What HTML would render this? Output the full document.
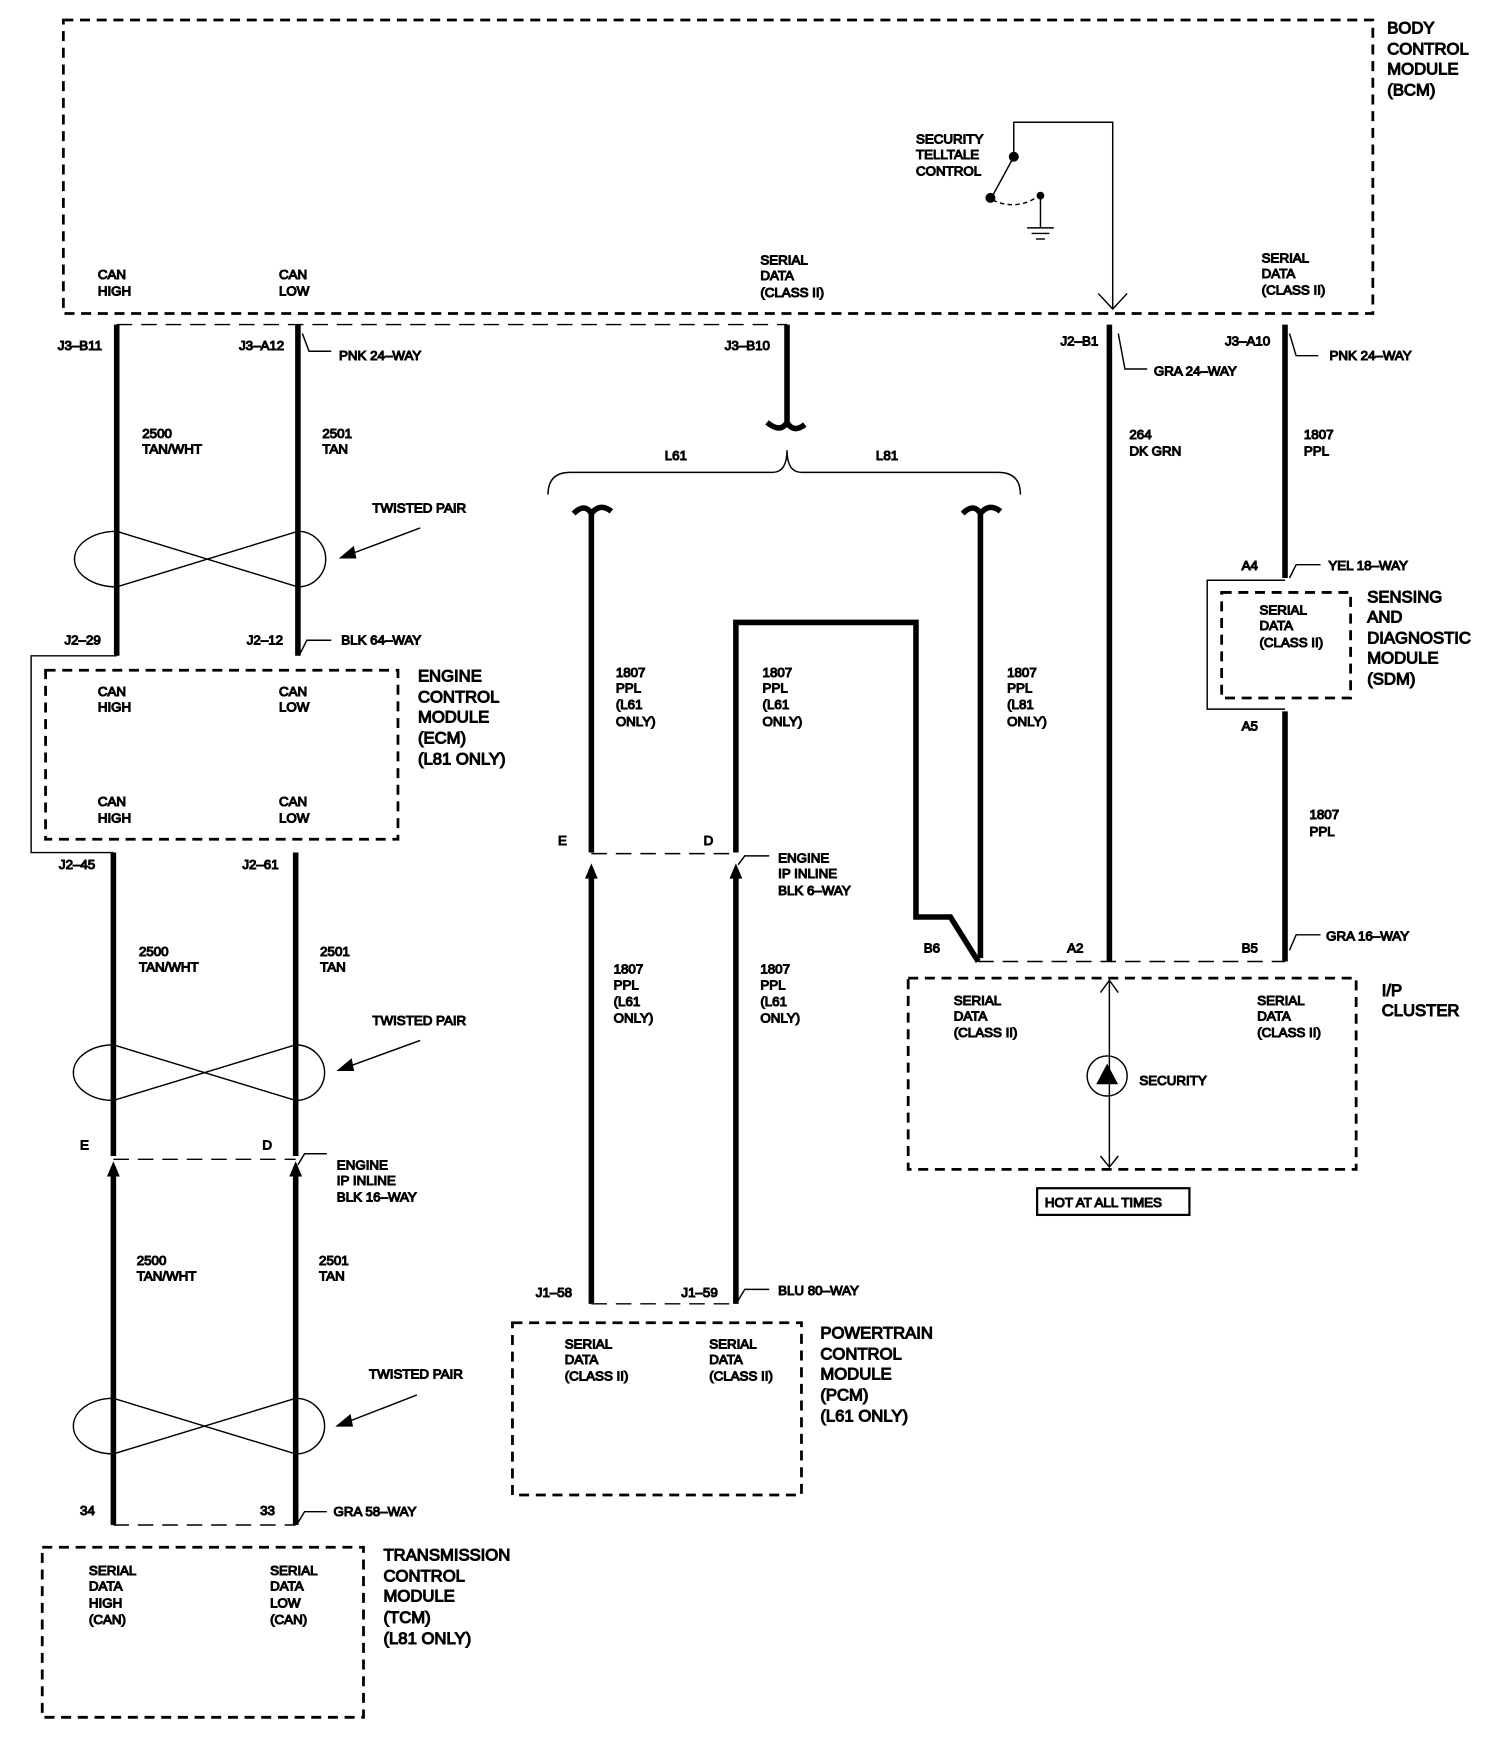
<!DOCTYPE html>
<html><head><meta charset="utf-8"><style>
html,body{margin:0;padding:0;background:#fff}
svg{display:block}
text{font-family:"Liberation Sans",sans-serif;font-size:12px;fill:#000}
.b{font-size:15px}
</style></head><body>
<svg width="1504" height="1744" viewBox="0 0 1353 1569" preserveAspectRatio="none" xmlns="http://www.w3.org/2000/svg">
<g fill="none" stroke="#000">
<!-- boxes -->
<g stroke-width="2.5" stroke-dasharray="9,6">
<rect x="57" y="18" width="1178" height="264"/>
<rect x="41" y="603" width="317" height="152"/>
<rect x="38" y="1392" width="289" height="153"/>
<rect x="461" y="1190" width="260" height="155"/>
<rect x="1099" y="533" width="116" height="95"/>
<rect x="817" y="880" width="403" height="172"/>
</g>
<!-- thin dashed connector lines -->
<g stroke-width="1.3" stroke-dasharray="14,8">
<line x1="105" y1="292" x2="708" y2="292"/>
<line x1="102" y1="1043" x2="266" y2="1043"/>
<line x1="102" y1="1372" x2="266" y2="1372"/>
<line x1="532" y1="768" x2="662" y2="768"/>
<line x1="532" y1="1173" x2="662" y2="1173"/>
<line x1="880" y1="865" x2="1156" y2="865"/>
</g>
<!-- thin outer brackets -->
<g stroke-width="1.3">
<polyline points="105,590 28,590 28,767 102,767"/>
<polyline points="1156,522 1086,522 1086,638 1156,638"/>
<polyline points="912,141 912,110 1001,110 1001,278"/>
<polyline points="988,264 1001,278 1014,264"/>
<line x1="998" y1="882" x2="998" y2="1050"/>
<polyline points="990,893 998,882 1006,893"/>
<polyline points="990,1040 998,1050 1006,1040"/>
<circle cx="996" cy="968" r="18"/>
<line x1="912" y1="141" x2="893" y2="176"/>
<path d="M893,180 Q915,190 935,176" stroke-dasharray="4,3"/>
<line x1="936" y1="176" x2="936" y2="205"/>
<line x1="924" y1="205" x2="948" y2="205"/><line x1="928" y1="210" x2="944" y2="210"/><line x1="932" y1="215" x2="940" y2="215"/>
<rect x="933" y="1069" width="137" height="24" stroke-width="2"/>
<!-- leaders -->
<path d="M272,300 l6,16 h20"/><path d="M1006,300 l6,32 h20"/><path d="M1160,300 l6,20 h20"/>
<path d="M270,588 l6,-12 h22"/><path d="M1160,520 l6,-12 h22"/><path d="M1160,855 l6,-14 h22"/>
<path d="M268,1048 l6,-10 h20"/><path d="M268,1370 l6,-10 h20"/><path d="M664,778 l6,-8 h22"/><path d="M664,1170 l6,-10 h22"/>
<!-- twisted pairs -->
<path d="M105,478 A38,25 0 0 0 105,528 M268,478 A25,25 0 0 1 268,528 M105,478 L268,528 M105,528 L268,478"/>
<path d="M102,940 A36,25 0 0 0 102,990 M266,940 A26,25 0 0 1 266,990 M102,940 L266,990 M102,990 L266,940"/>
<path d="M102,1258 A36,25 0 0 0 102,1308 M266,1258 A26,25 0 0 1 266,1308 M102,1258 L266,1308 M102,1308 L266,1258"/>
<line x1="378" y1="475" x2="306" y2="502"/><line x1="378" y1="936" x2="304" y2="963"/><line x1="375" y1="1255" x2="303" y2="1283"/>
<!-- brace -->
<path d="M493,445 Q493,425 513,425 L695,425 Q708,425 708,405 Q708,425 721,425 L898,425 Q918,425 918,445"/>
</g>
<g fill="#000">
<polygon points="306,502 318,492 320,502"/><polygon points="304,963 316,953 318,963"/><polygon points="303,1283 315,1273 317,1283"/>
<circle cx="912" cy="141" r="4"/><circle cx="891" cy="178" r="4"/><circle cx="936" cy="176" r="3"/>
<polygon points="987,975 1005,975 996,958"/>
</g>
<!-- thick wires -->
<g fill="none" stroke="#000" stroke-width="5">
<line x1="105" y1="292" x2="105" y2="590"/><line x1="268" y1="292" x2="268" y2="590"/>
<line x1="102" y1="767" x2="102" y2="1040"/><line x1="266" y1="767" x2="266" y2="1040"/>
<line x1="102" y1="1050" x2="102" y2="1372"/><line x1="266" y1="1050" x2="266" y2="1372"/>
<path d="M708,292 V380 Q702,390 690,380 M708,380 Q714,390 724,382"/>
<path d="M532,767 V462 Q526,452 516,462 M532,462 Q540,452 550,460"/>
<path d="M882,862 V462 Q876,452 866,462 M882,462 Q890,452 900,460"/>
<path d="M662,767 V560 H824 V825 H855 L880,865"/>
<line x1="532" y1="782" x2="532" y2="1173"/><line x1="662" y1="782" x2="662" y2="1173"/>
<line x1="998" y1="292" x2="998" y2="865"/>
<line x1="1156" y1="292" x2="1156" y2="520"/><line x1="1156" y1="640" x2="1156" y2="865"/>
</g>
<g fill="#000"><polygon points="97,1058 102,1046 107,1058"/><polygon points="261,1058 266,1046 271,1058"/><polygon points="527,790 532,778 537,790"/><polygon points="657,790 662,778 667,790"/></g>
<!-- text -->
<text class="b" x="1248" y="30">BODY</text><text class="b" x="1248" y="49">CONTROL</text><text class="b" x="1248" y="67">MODULE</text><text class="b" x="1248" y="86">(BCM)</text>
<text x="824" y="129">SECURITY</text><text x="824" y="143">TELLTALE</text><text x="824" y="158">CONTROL</text>
<text x="88" y="251">CAN</text><text x="88" y="266">HIGH</text><text x="251" y="251">CAN</text><text x="251" y="266">LOW</text>
<text x="684" y="238">SERIAL</text><text x="684" y="252">DATA</text><text x="684" y="267">(CLASS II)</text>
<text x="1135" y="236">SERIAL</text><text x="1135" y="250">DATA</text><text x="1135" y="265">(CLASS II)</text>
<text x="52" y="315">J3–B11</text><text x="215" y="315">J3–A12</text><text x="305" y="324">PNK 24–WAY</text>
<text x="652" y="315">J3–B10</text><text x="954" y="311">J2–B1</text><text x="1038" y="338">GRA 24–WAY</text>
<text x="1102" y="311">J3–A10</text><text x="1196" y="324">PNK 24–WAY</text>
<text x="128" y="394">2500</text><text x="128" y="408">TAN/WHT</text><text x="290" y="394">2501</text><text x="290" y="408">TAN</text>
<text x="1016" y="395">264</text><text x="1016" y="410">DK GRN</text><text x="1173" y="395">1807</text><text x="1173" y="410">PPL</text>
<text x="598" y="414">L61</text><text x="788" y="414">L81</text>
<text x="335" y="461">TWISTED PAIR</text>
<text x="1117" y="513">A4</text><text x="1195" y="513">YEL 18–WAY</text>
<text class="b" x="1230" y="542">SENSING</text><text class="b" x="1230" y="560">AND</text><text class="b" x="1230" y="579">DIAGNOSTIC</text><text class="b" x="1230" y="597">MODULE</text><text class="b" x="1230" y="616">(SDM)</text>
<text x="1133" y="553">SERIAL</text><text x="1133" y="567">DATA</text><text x="1133" y="582">(CLASS II)</text>
<text x="58" y="580">J2–29</text><text x="222" y="580">J2–12</text><text x="307" y="580">BLK 64–WAY</text>
<text x="554" y="609">1807</text><text x="554" y="623">PPL</text><text x="554" y="638">(L61</text><text x="554" y="653">ONLY)</text>
<text x="686" y="609">1807</text><text x="686" y="623">PPL</text><text x="686" y="638">(L61</text><text x="686" y="653">ONLY)</text>
<text x="906" y="609">1807</text><text x="906" y="623">PPL</text><text x="906" y="638">(L81</text><text x="906" y="653">ONLY)</text>
<text class="b" x="376" y="613">ENGINE</text><text class="b" x="376" y="632">CONTROL</text><text class="b" x="376" y="650">MODULE</text><text class="b" x="376" y="669">(ECM)</text><text class="b" x="376" y="688">(L81 ONLY)</text>
<text x="88" y="626">CAN</text><text x="88" y="640">HIGH</text><text x="251" y="626">CAN</text><text x="251" y="640">LOW</text>
<text x="88" y="725">CAN</text><text x="88" y="740">HIGH</text><text x="251" y="725">CAN</text><text x="251" y="740">LOW</text>
<text x="1117" y="657">A5</text><text x="1178" y="737">1807</text><text x="1178" y="752">PPL</text>
<text x="502" y="760">E</text><text x="633" y="760">D</text>
<text x="700" y="776">ENGINE</text><text x="700" y="790">IP INLINE</text><text x="700" y="805">BLK 6–WAY</text>
<text x="53" y="782">J2–45</text><text x="218" y="782">J2–61</text>
<text x="1193" y="846">GRA 16–WAY</text><text x="831" y="857">B6</text><text x="960" y="857">A2</text><text x="1117" y="857">B5</text>
<text x="125" y="860">2500</text><text x="125" y="874">TAN/WHT</text><text x="288" y="860">2501</text><text x="288" y="874">TAN</text>
<text x="552" y="876">1807</text><text x="552" y="890">PPL</text><text x="552" y="905">(L61</text><text x="552" y="920">ONLY)</text>
<text x="684" y="876">1807</text><text x="684" y="890">PPL</text><text x="684" y="905">(L61</text><text x="684" y="920">ONLY)</text>
<text x="858" y="904">SERIAL</text><text x="858" y="918">DATA</text><text x="858" y="933">(CLASS II)</text>
<text x="1131" y="904">SERIAL</text><text x="1131" y="918">DATA</text><text x="1131" y="933">(CLASS II)</text>
<text class="b" x="1243" y="896">I/P</text><text class="b" x="1243" y="914">CLUSTER</text>
<text x="335" y="922">TWISTED PAIR</text><text x="1025" y="976">SECURITY</text>
<text x="72" y="1034">E</text><text x="236" y="1034">D</text>
<text x="303" y="1052">ENGINE</text><text x="303" y="1066">IP INLINE</text><text x="303" y="1081">BLK 16–WAY</text>
<text x="940" y="1086">HOT AT ALL TIMES</text>
<text x="123" y="1138">2500</text><text x="123" y="1152">TAN/WHT</text><text x="287" y="1138">2501</text><text x="287" y="1152">TAN</text>
<text x="482" y="1167">J1–58</text><text x="613" y="1167">J1–59</text><text x="700" y="1165">BLU 80–WAY</text>
<text class="b" x="738" y="1204">POWERTRAIN</text><text class="b" x="738" y="1223">CONTROL</text><text class="b" x="738" y="1241">MODULE</text><text class="b" x="738" y="1260">(PCM)</text><text class="b" x="738" y="1279">(L61 ONLY)</text>
<text x="508" y="1213">SERIAL</text><text x="508" y="1227">DATA</text><text x="508" y="1242">(CLASS II)</text>
<text x="638" y="1213">SERIAL</text><text x="638" y="1227">DATA</text><text x="638" y="1242">(CLASS II)</text>
<text x="332" y="1240">TWISTED PAIR</text>
<text x="72" y="1363">34</text><text x="234" y="1363">33</text><text x="300" y="1364">GRA 58–WAY</text>
<text class="b" x="345" y="1404">TRANSMISSION</text><text class="b" x="345" y="1423">CONTROL</text><text class="b" x="345" y="1441">MODULE</text><text class="b" x="345" y="1460">(TCM)</text><text class="b" x="345" y="1479">(L81 ONLY)</text>
<text x="80" y="1417">SERIAL</text><text x="80" y="1431">DATA</text><text x="80" y="1446">HIGH</text><text x="80" y="1461">(CAN)</text>
<text x="243" y="1417">SERIAL</text><text x="243" y="1431">DATA</text><text x="243" y="1446">LOW</text><text x="243" y="1461">(CAN)</text>
</svg>
</body></html>
